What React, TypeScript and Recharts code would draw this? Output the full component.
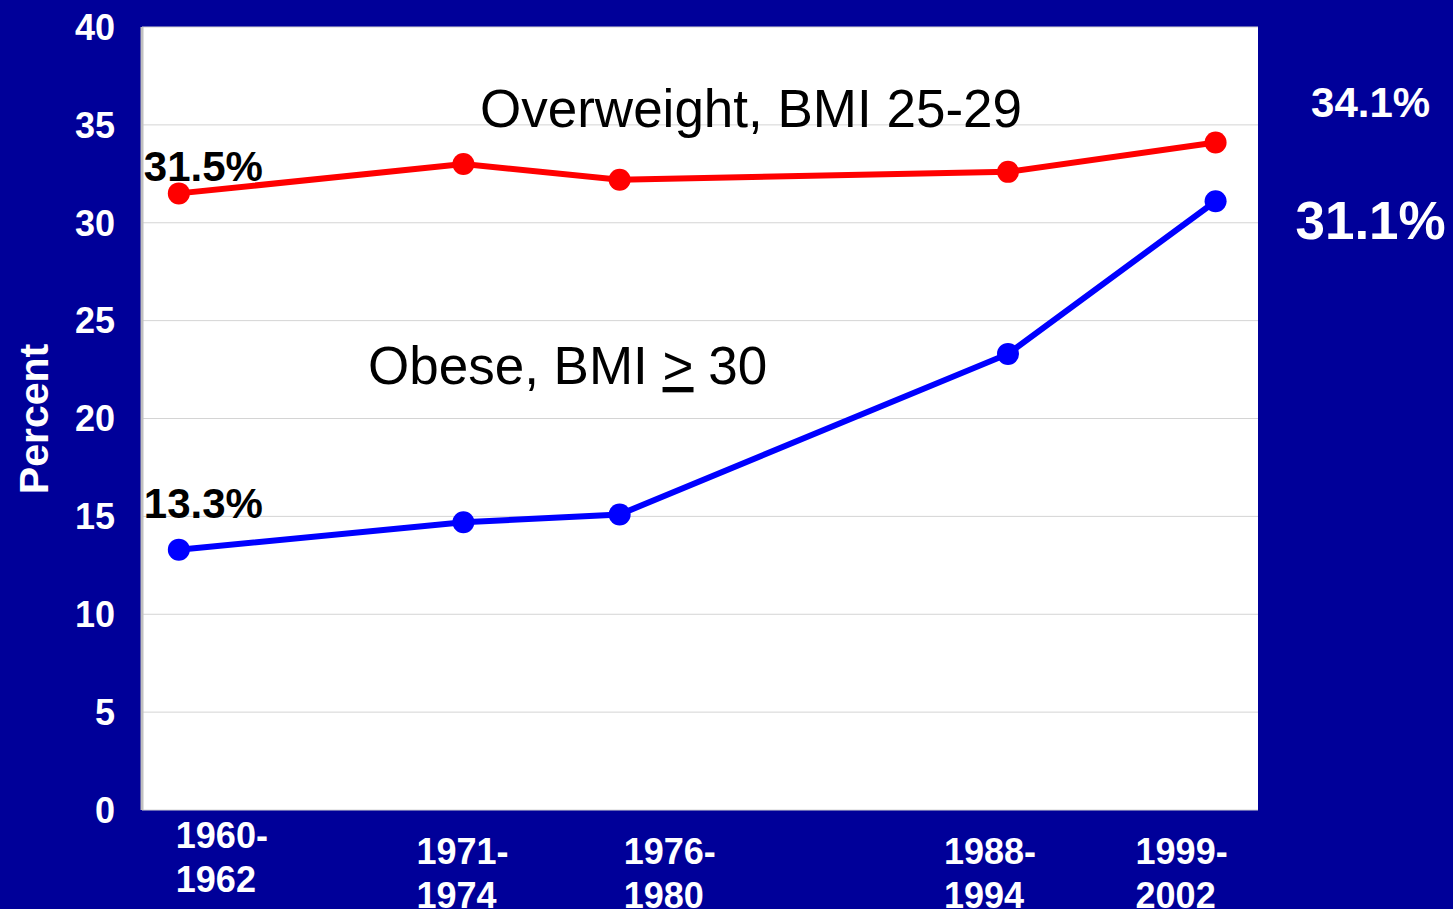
import { LineChart, Line, XAxis, YAxis, CartesianGrid, LabelList } from 'recharts';

const periods = ['1960-1962', '1971-1974', '1976-1980', '1988-1994', '1999-2002'];
// where each survey sits along the (unevenly spaced) horizontal axis, 0-100
const periodPos = [3.3, 28.8, 42.8, 77.6, 96.2];
const overweight = [31.5, 33.0, 32.2, 32.6, 34.1];
const obese = [13.3, 14.7, 15.1, 23.3, 31.1];
const yTicks = [0, 5, 10, 15, 20, 25, 30, 35, 40];

const data = periods.map((p, i) => ({
  period: p,
  pos: periodPos[i],
  overweight: overweight[i],
  obese: obese[i],
}));

const BG = '#000099';
const FONT = '"Liberation Sans", Arial, sans-serif';

// tick label placement (left aligned, offset from the point)
const TICK_DX = [-3, -47, 4, -64, -80];
const TICK_DY = [38, 54, 54, 54, 54];

function PeriodTick(props: any) {
  const { x, y, payload } = props;
  const i = periodPos.indexOf(payload.value);
  if (i < 0) return null;
  const [a, b] = periods[i].split('-');
  const tx = x + TICK_DX[i];
  return (
    <text x={tx} y={y + TICK_DY[i]} fill="#fff" fontSize={36} fontWeight="bold" fontFamily={FONT}>
      <tspan x={tx}>{a}-</tspan>
      <tspan x={tx} dy={44}>{b}</tspan>
    </text>
  );
}

const last = periods.length - 1;

function overweightLabel(props: any) {
  const { x, y, value, index } = props;
  if (index === 0) {
    return (
      <text x={x - 35} y={y - 12} fill="#000" fontSize={42} fontWeight="bold" fontFamily={FONT}>
        {value}%
      </text>
    );
  }
  if (index === last) {
    return (
      <text x={x + 155} y={y - 25} fill="#fff" fontSize={42} fontWeight="bold" fontFamily={FONT} textAnchor="middle">
        {value}%
      </text>
    );
  }
  return null;
}

function obeseLabel(props: any) {
  const { x, y, value, index } = props;
  if (index === 0) {
    return (
      <text x={x - 35} y={y - 32} fill="#000" fontSize={42} fontWeight="bold" fontFamily={FONT}>
        {value}%
      </text>
    );
  }
  if (index === last) {
    return (
      <text x={x + 155} y={y + 38} fill="#fff" fontSize={53} fontWeight="bold" fontFamily={FONT} textAnchor="middle">
        {value}%
      </text>
    );
  }
  return null;
}

export default function App() {
  return (
    <div style={{ position: 'absolute', left: 0, top: 0, width: 1453, height: 909, background: BG }}>
      <LineChart width={1453} height={909} data={data} margin={{ top: 27, right: 195, bottom: 0, left: 0 }}>
        <CartesianGrid vertical={false} stroke="#d4d4d4" fill="#fff" />
        <XAxis
          dataKey="pos"
          type="number"
          domain={[0, 100]}
          ticks={periodPos}
          interval={0}
          height={99}
          axisLine={false}
          tickLine={false}
          tickSize={0}
          tickMargin={0}
          tick={<PeriodTick />}
        />
        <YAxis
          domain={[0, 40]}
          ticks={yTicks}
          interval={0}
          width={142}
          axisLine={{ stroke: '#c0c0c0', strokeWidth: 3 }}
          tickLine={false}
          tickSize={0}
          tickMargin={27}
          tick={{ fill: '#fff', fontSize: 36, fontWeight: 'bold', fontFamily: FONT }}
          label={() => (
            <text
              x={48}
              y={419}
              transform="rotate(-90, 48, 419)"
              textAnchor="middle"
              fill="#fff"
              fontSize={41}
              fontWeight="bold"
              fontFamily={FONT}
            >
              Percent
            </text>
          )}
        />
        <Line
          dataKey="overweight"
          stroke="#ff0000"
          strokeWidth={6}
          dot={{ r: 11, fill: '#ff0000', stroke: 'none' }}
          isAnimationActive={false}
        >
          <LabelList dataKey="overweight" content={overweightLabel} />
        </Line>
        <Line
          dataKey="obese"
          stroke="#0000ff"
          strokeWidth={6}
          dot={{ r: 11, fill: '#0000ff', stroke: 'none' }}
          isAnimationActive={false}
        >
          <LabelList dataKey="obese" content={obeseLabel} />
        </Line>
        <text x={480} y={127} fill="#000" fontSize={53} fontFamily={FONT}>
          Overweight, BMI 25-29
        </text>
        <text x={368} y={384} fill="#000" fontSize={53} fontFamily={FONT}>
          Obese, BMI <tspan style={{ textDecoration: 'underline' }}>&gt;</tspan> 30
        </text>
      </LineChart>
    </div>
  );
}
